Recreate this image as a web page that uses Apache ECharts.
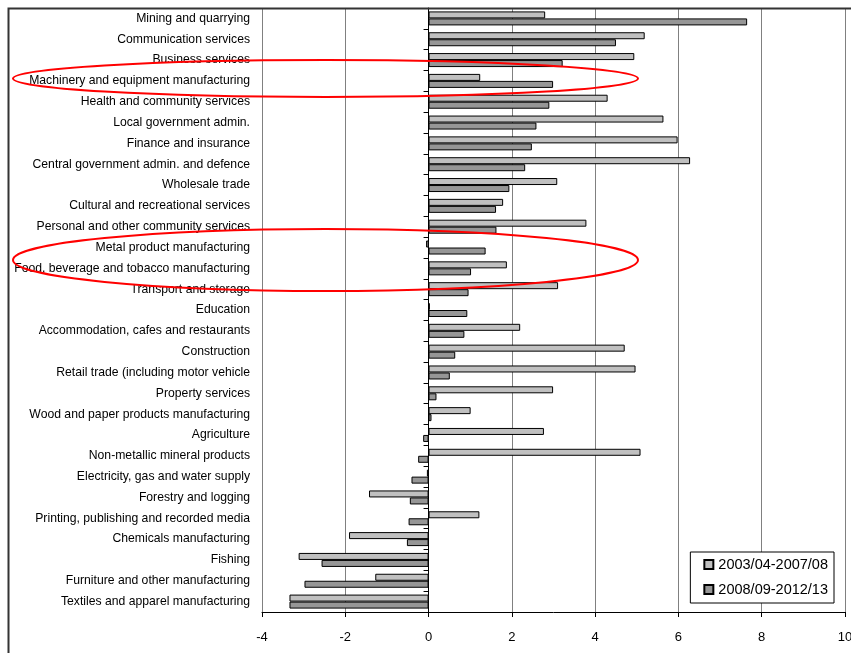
<!DOCTYPE html>
<html>
<head>
<meta charset="utf-8">
<script src="https://cdn.jsdelivr.net/npm/echarts@6/dist/echarts.min.js"></script>
<style>
  html, body { margin: 0; padding: 0; background: #fff; }
  #chart { width: 851px; height: 653px; }
</style>
</head>
<body>
<div id="chart"></div>
<script>
// Industries, top to bottom
const industries = [
  'Mining and quarrying',
  'Communication services',
  'Business services',
  'Machinery and equipment manufacturing',
  'Health and community services',
  'Local government admin.',
  'Finance and insurance',
  'Central government admin. and defence',
  'Wholesale trade',
  'Cultural and recreational services',
  'Personal and other community services',
  'Metal product manufacturing',
  'Food, beverage and tobacco manufacturing',
  'Transport and storage',
  'Education',
  'Accommodation, cafes and restaurants',
  'Construction',
  'Retail trade (including motor vehicle',
  'Property services',
  'Wood and paper products manufacturing',
  'Agriculture',
  'Non-metallic mineral products',
  'Electricity, gas and water supply',
  'Forestry and logging',
  'Printing, publishing and recorded media',
  'Chemicals manufacturing',
  'Fishing',
  'Furniture and other manufacturing',
  'Textiles and apparel manufacturing'
];

// Average annual growth, 2003/04-2007/08
const growthEarly = [
  2.80, 5.19, 4.94, 1.24, 4.30, 5.64, 5.98, 6.28, 3.09, 1.79,
  3.79, -0.06, 1.88, 3.11, 0.03, 2.20, 4.71, 4.97, 2.99, 1.01,
  2.77, 5.09, -0.04, -1.43, 1.22, -1.91, -3.12, -1.28, -3.34
];

// Average annual growth, 2008/09-2012/13
const growthLate = [
  7.65, 4.50, 3.22, 2.99, 2.90, 2.59, 2.48, 2.32, 1.94, 1.62,
  1.63, 1.37, 1.02, 0.96, 0.93, 0.86, 0.64, 0.51, 0.19, 0.07,
  -0.13, -0.25, -0.41, -0.45, -0.48, -0.52, -2.57, -2.98, -3.34
];

const periodNames = ['2003/04-2007/08', '2008/09-2012/13'];

const FONT = '"Liberation Sans", Arial, sans-serif';

const chart = echarts.init(document.getElementById('chart'), null, { renderer: 'canvas' });

chart.setOption({
  animation: false,
  backgroundColor: '#ffffff',
  textStyle: { fontFamily: FONT, color: '#000' },
  grid: { left: 262, right: 6, top: 8, bottom: 41, containLabel: false, outerBoundsMode: 'none' },
  legend: {
    orient: 'vertical',
    right: 17,
    top: 552,
    data: periodNames,
    icon: 'rect',
    itemWidth: 9,
    itemHeight: 9,
    itemGap: 10,
    padding: [5, 6, 6, 13],
    backgroundColor: '#ffffff',
    borderColor: '#000',
    borderWidth: 1,
    borderRadius: 0,
    textStyle: { fontFamily: FONT, fontSize: 14.5, color: '#000' }
  },
  xAxis: {
    type: 'value',
    min: -4,
    max: 10,
    interval: 2,
    axisLine: { show: true, lineStyle: { color: '#000', width: 1 } },
    axisTick: { show: true, length: 5, lineStyle: { color: '#000' } },
    axisLabel: { fontFamily: FONT, fontSize: 13, color: '#000', margin: 19 },
    splitLine: { show: true, lineStyle: { color: '#808080', width: 1 } }
  },
  yAxis: [
    {
      // category names at the left edge of the plot
      type: 'category',
      data: industries,
      inverse: true,
      position: 'left',
      axisLine: { show: false, onZero: false },
      axisTick: { show: false },
      splitLine: { show: false },
      axisLabel: { fontFamily: FONT, fontSize: 12.2, color: '#000', margin: 12, interval: 0 }
    },
    {
      // zero line with category ticks
      type: 'category',
      data: industries,
      inverse: true,
      position: 'left',
      axisLine: { show: true, onZero: true, lineStyle: { color: '#000', width: 1 } },
      axisTick: { show: true, length: 5, lineStyle: { color: '#000' } },
      axisLabel: { show: false },
      splitLine: { show: false }
    }
  ],
  series: [
    {
      name: periodNames[0],
      type: 'bar',
      yAxisIndex: 0,
      data: growthEarly,
      barWidth: 7,
      barGap: '0%',
      itemStyle: { color: '#c0c0c0', borderColor: '#000', borderWidth: 1 },
      z: 3
    },
    {
      name: periodNames[1],
      type: 'bar',
      yAxisIndex: 0,
      data: growthLate,
      barWidth: 7,
      barGap: '0%',
      itemStyle: { color: '#969696', borderColor: '#000', borderWidth: 1 },
      z: 3
    }
  ],
  graphic: [
    {
      type: 'rect',
      silent: true,
      shape: { x: 8.5, y: 8.5, width: 1000, height: 1000 },
      style: { fill: 'none', stroke: '#333', lineWidth: 2 },
      z: 10
    },
    {
      type: 'ellipse',
      silent: true,
      shape: { cx: 325.5, cy: 78.5, rx: 312.5, ry: 18.5 },
      style: { fill: 'none', stroke: '#ff0000', lineWidth: 2 },
      z: 20
    },
    {
      type: 'ellipse',
      silent: true,
      shape: { cx: 325.5, cy: 260, rx: 312.5, ry: 31 },
      style: { fill: 'none', stroke: '#ff0000', lineWidth: 2 },
      z: 20
    }
  ]
});
</script>
</body>
</html>
